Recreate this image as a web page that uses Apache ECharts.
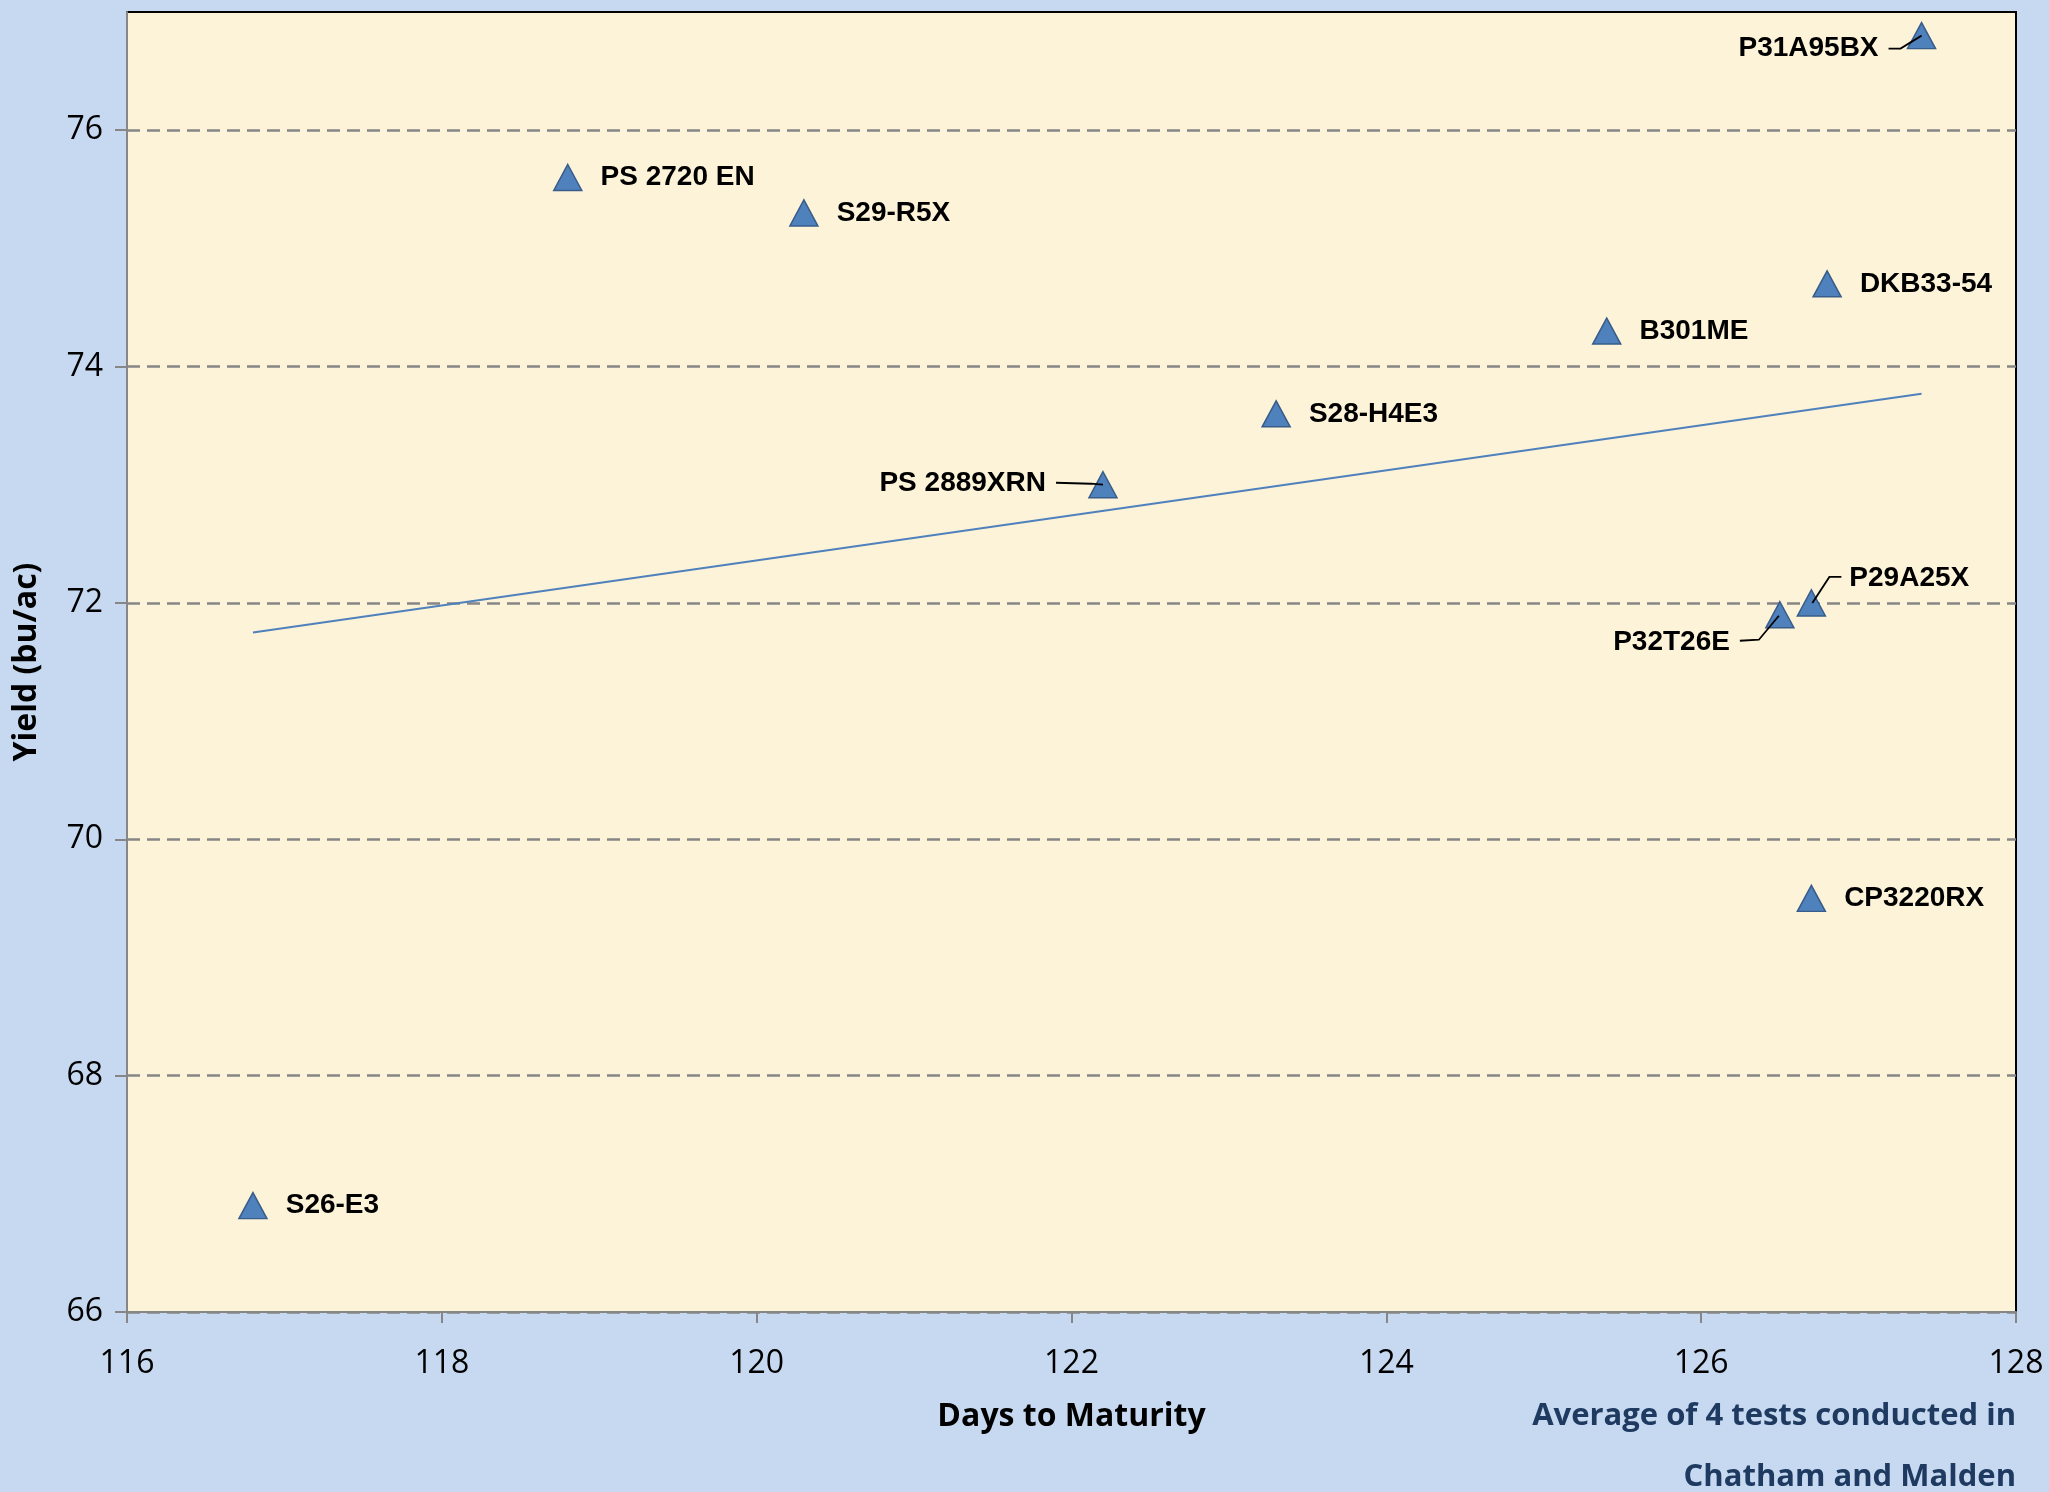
<!DOCTYPE html>
<html>
<head>
<meta charset="utf-8">
<script src="https://cdn.jsdelivr.net/npm/echarts@6.0.0/dist/echarts.min.js"></script>
<style>
html,body{margin:0;padding:0;background:#C6D9F0;}
#chart{width:2049px;height:1492px;}
</style>
</head>
<body>
<div id="chart"></div>
<script>
// Data
const names = ['S26-E3','PS 2720 EN','S29-R5X','PS 2889XRN','S28-H4E3','B301ME','DKB33-54','P31A95BX','P29A25X','P32T26E','CP3220RX'];
const days = [116.8,118.8,120.3,122.2,123.3,125.4,126.8,127.4,126.7,126.5,126.7];
const yields = [66.9,75.6,75.3,73.0,73.6,74.3,74.7,76.8,72.0,71.9,69.5];
const trendDays = [116.8,127.4];
const trendYields = [71.75,73.77];
const yTicks = [66,68,70,72,74,76];

// Label call-out styles (pixel offsets from marker centre)
const callouts = {
  'P31A95BX':  {lx:-43, ly:13,  align:'right', pts:[[0,0],[-21,13],[-33,13]]},
  'PS 2889XRN':{lx:-57, ly:-1,  align:'right', pts:[[0,0],[-12,-1],[-47,-2]]},
  'P29A25X':   {lx:38,  ly:-25, align:'left',  pts:[[1,0],[18,-26],[30,-26]]},
  'P32T26E':   {lx:-50, ly:28,  align:'right', pts:[[-1,1],[-21,25],[-40,26]]}
};

const chart = echarts.init(document.getElementById('chart'), null, {renderer:'canvas'});
const tickFont = "'Open Sans', sans-serif";
const labFont = "'Liberation Sans',Arial,sans-serif";

const footnote = [
  {type:'text', right:33, top:1401, style:{text:'Average of 4 tests conducted in', fontFamily:tickFont, fontWeight:'bold', fontSize:31, fill:'#1F3A60', textAlign:'right'}},
  {type:'text', right:33, top:1462, style:{text:'Chatham and Malden', fontFamily:tickFont, fontWeight:'bold', fontSize:31, fill:'#1F3A60', textAlign:'right'}}
];

chart.setOption({
  backgroundColor:'#C6D9F0',
  animation:false,
  grid:{left:127, right:33, top:12, bottom:180, show:true, backgroundColor:'#FDF3D9', borderColor:'#000', borderWidth:2},
  xAxis:{
    type:'value', min:116, max:128, interval:2, z:1,
    name:'Days to Maturity', nameLocation:'middle', nameGap:89,
    nameTextStyle:{fontFamily:tickFont, fontWeight:'bold', fontSize:32, color:'#000'},
    axisLine:{show:true, lineStyle:{color:'#868686', width:2}},
    axisTick:{show:true, inside:false, length:11, lineStyle:{color:'#868686', width:2}},
    axisLabel:{fontFamily:tickFont, fontSize:32, color:'#000', margin:36},
    splitLine:{show:false}
  },
  yAxis:{
    type:'value', min:66, max:77, interval:2,
    name:'Yield (bu/ac)', nameLocation:'middle', nameGap:84,
    nameTextStyle:{fontFamily:tickFont, fontWeight:'bold', fontSize:32, color:'#000'},
    axisLine:{show:true, lineStyle:{color:'#868686', width:2}},
    axisTick:{show:true, inside:false, length:12, customValues:yTicks, lineStyle:{color:'#868686', width:2}},
    axisLabel:{fontFamily:tickFont, fontSize:32, color:'#000', margin:24, customValues:yTicks},
    splitLine:{show:true, lineStyle:{color:'#868686', width:2.5, type:[13,7]}}
  },
  graphic:footnote,
  series:[
    {
      type:'line', data:trendDays.map((d,i)=>[d, trendYields[i]]),
      symbol:'none', lineStyle:{color:'#4F81BD', width:2}, z:2, silent:true
    },
    {
      type:'scatter', data:names.map((n,i)=>({name:n, value:[days[i], yields[i]]})),
      symbol:'triangle', symbolSize:[28,26], z:3,
      itemStyle:{color:'#4F81BD', borderColor:'#385D8A', borderWidth:1.5, opacity:1},
      label:{show:true, position:'right', distance:18, formatter:p=>p.name,
        fontFamily:labFont, fontWeight:'bold', fontSize:28, color:'#000'},
      labelLayout:function(p){
        const c = callouts[names[p.dataIndex]];
        if (!c) return {};
        const cx = p.rect.x + p.rect.width/2, cy = p.rect.y + p.rect.height/2;
        return {x:cx+c.lx, y:cy+c.ly, align:c.align, verticalAlign:'middle'};
      }
    }
  ]
});

// Leader lines for call-out labels, placed through the chart's own scales
const leaders = [];
names.forEach((n,i)=>{
  const c = callouts[n];
  if (!c) return;
  const p = chart.convertToPixel({seriesIndex:1}, [days[i], yields[i]]);
  leaders.push({type:'polyline', z:100, silent:true,
    shape:{points:c.pts.map(q=>[p[0]+q[0], p[1]+q[1]])},
    style:{stroke:'#000', lineWidth:1.8, fill:null}});
});
chart.setOption({graphic:footnote.concat(leaders)});
</script>
</body>
</html>
